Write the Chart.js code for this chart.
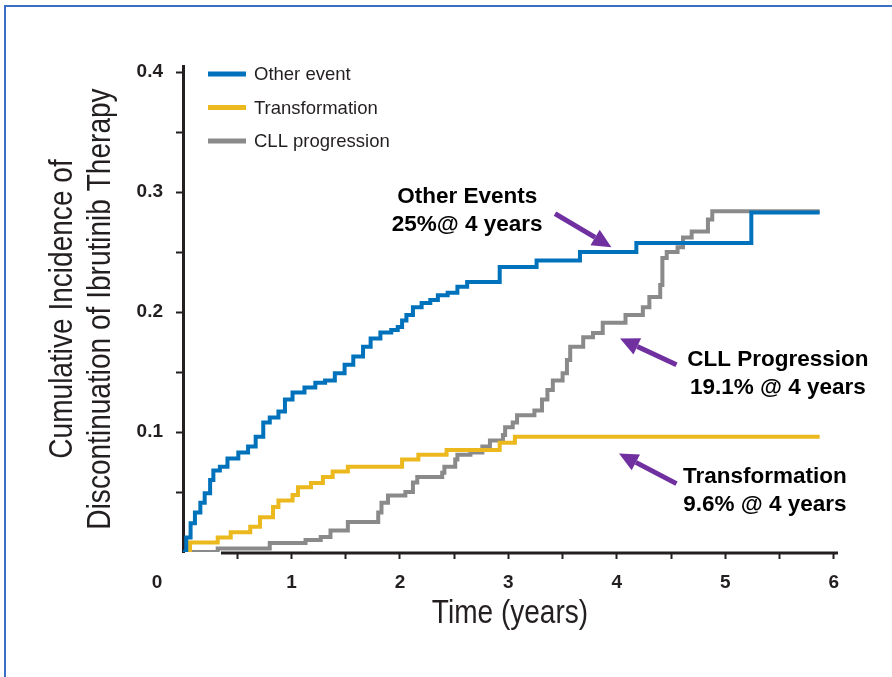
<!DOCTYPE html>
<html>
<head>
<meta charset="utf-8">
<title>Cumulative incidence of ibrutinib discontinuation</title>
<script src="https://cdn.jsdelivr.net/npm/chart.js@4.4.1/dist/chart.umd.min.js"></script>
<style>
  html, body { margin: 0; padding: 0; background: #ffffff; }
  #wrap { position: relative; width: 892px; height: 677px; overflow: hidden; background: #ffffff; }
  #frame { position: absolute; left: 4px; top: 5px; width: 1000px; height: 1000px;
           border-left: 2px solid #3a6fc3; border-top: 2px solid #3a6fc3; }
  #c { position: absolute; left: 0; top: 0; }
</style>
</head>
<body>
<div id="wrap">
  <div id="frame"></div>
  <canvas id="c" width="892" height="677"></canvas>
</div>
<script>
// ---- series (time in years, cumulative incidence) ----
const seriesNames = ['Other event', 'Transformation', 'CLL progression'];

const otherEventTimes = [0, 0.03, 0.07, 0.11, 0.16, 0.20, 0.25, 0.28, 0.34, 0.41, 0.51, 0.60, 0.67, 0.74, 0.80,
  0.88, 0.94, 1.01, 1.12, 1.22, 1.31, 1.40, 1.49, 1.57, 1.66, 1.73, 1.82, 1.92, 1.98, 2.02, 2.06, 2.12,
  2.20, 2.28, 2.35, 2.44, 2.53, 2.62, 2.92, 3.26, 3.66, 4.18, 5.24, 5.87];
const otherEventValues = [0, 0.012, 0.024, 0.033, 0.041, 0.049, 0.060, 0.068, 0.071, 0.078, 0.083, 0.088, 0.096, 0.108, 0.112,
  0.117, 0.127, 0.133, 0.137, 0.141, 0.143, 0.149, 0.156, 0.163, 0.171, 0.178, 0.183, 0.185, 0.1875, 0.193, 0.1975, 0.204,
  0.2075, 0.210, 0.214, 0.216, 0.221, 0.225, 0.2375, 0.243, 0.250, 0.2575, 0.283, 0.283];

const transformationTimes = [0, 0.065, 0.32, 0.44, 0.62, 0.71, 0.83, 0.88, 1.01, 1.06, 1.18, 1.29, 1.38, 1.52,
  2.02, 2.17, 2.43, 2.92, 3.06, 5.87];
const transformationValues = [0, 0.008, 0.012, 0.0165, 0.021, 0.029, 0.0375, 0.043, 0.0475, 0.054, 0.0575, 0.0625, 0.067, 0.071,
  0.077, 0.081, 0.085, 0.091, 0.096, 0.096];

const progressionTimes = [0, 0.32, 0.80, 1.13, 1.27, 1.36, 1.52, 1.80, 1.83, 1.89, 2.05, 2.12, 2.16, 2.39, 2.41,
  2.51, 2.53, 2.65, 2.76, 2.83, 2.95, 2.97, 3.04, 3.08, 3.24, 3.31, 3.36, 3.41, 3.50, 3.54, 3.57, 3.69, 3.78,
  3.87, 4.08, 4.24, 4.30, 4.40, 4.42, 4.46, 4.56, 4.61, 4.69, 4.84, 4.88, 5.87];
const progressionValues = [0, 0.003, 0.0075, 0.010, 0.0125, 0.018, 0.025, 0.033, 0.041, 0.047, 0.050, 0.058, 0.0625, 0.066, 0.071,
  0.077, 0.081, 0.083, 0.088, 0.093, 0.0975, 0.104, 0.108, 0.114, 0.118, 0.127, 0.135, 0.143, 0.149, 0.160, 0.171, 0.179, 0.1825,
  0.191, 0.1975, 0.204, 0.2125, 0.2225, 0.245, 0.250, 0.254, 0.262, 0.267, 0.277, 0.284, 0.284];

// ---- axis ticks and titles ----
const xTickStep = 0.5;          // minor ticks every half year, labels on whole years
const yTickStep = 0.05;         // minor ticks every 0.05, labels every 0.1
const cornerLabel = '0';
const xTitle = 'Time (years)';
const yTitleLines = ['Cumulative Incidence of', 'Discontinuation of Ibrutinib Therapy'];

// ---- callouts ----
const noteLines = [
  ['Other Events', '25%@ 4 years'],
  ['CLL Progression', '19.1% @ 4 years'],
  ['Transformation', '9.6% @ 4 years']
];

// ---- styling / layout ----
const seriesColors = ['#0072bc', '#ebb91e', '#8a8a8a'];
const inkColor = '#231f20';
const arrowColor = '#7030a0';
const plain = "'Liberation Sans', Arial, sans-serif";
const titleSqueeze = 0.85;      // horizontal squeeze for the condensed axis titles

// arrow tip / tail and text anchor in data units (text anchor = first baseline)
const noteLayout = [
  { tip: [3.95, 0.254], tail: [3.43, 0.282], text: [2.62, 0.291] },
  { tip: [4.03, 0.178], tail: [4.55, 0.156], text: [5.485, 0.155] },
  { tip: [4.02, 0.082], tail: [4.55, 0.057], text: [5.365, 0.0575] }
];

function toPoints(times, values) {
  return times.map((t, i) => ({ x: t, y: values[i] }));
}

function drawArrow(ctx, x0, y0, x1, y1) {
  const ang = Math.atan2(y1 - y0, x1 - x0);
  const head = 19, half = 9;
  const bx = x1 - head * Math.cos(ang), by = y1 - head * Math.sin(ang);
  ctx.save();
  ctx.strokeStyle = arrowColor;
  ctx.fillStyle = arrowColor;
  ctx.lineWidth = 5;
  ctx.lineCap = 'butt';
  ctx.beginPath();
  ctx.moveTo(x0, y0);
  ctx.lineTo(bx, by);
  ctx.stroke();
  ctx.beginPath();
  ctx.moveTo(x1, y1);
  ctx.lineTo(bx + half * Math.sin(ang), by - half * Math.cos(ang));
  ctx.lineTo(bx - half * Math.sin(ang), by + half * Math.cos(ang));
  ctx.closePath();
  ctx.fill();
  ctx.restore();
}

function drawSqueezedText(ctx, text, x, y, rotation) {
  ctx.save();
  ctx.translate(x, y);
  ctx.rotate(rotation);
  ctx.scale(titleSqueeze, 1);
  ctx.fillText(text, 0, 0);
  ctx.restore();
}

const figureExtras = {
  id: 'figureExtras',
  beforeDatasetsDraw(chart) {
    // horizontal axis line, starting a little right of the origin
    const { ctx, chartArea, scales: { x } } = chart;
    ctx.save();
    ctx.strokeStyle = inkColor;
    ctx.lineWidth = 3;
    ctx.beginPath();
    ctx.moveTo(x.getPixelForValue(0.35), chartArea.bottom + 1);
    ctx.lineTo(chartArea.right + 1, chartArea.bottom + 1);
    ctx.stroke();
    ctx.restore();
  },
  afterDatasetsDraw(chart) {
    const { ctx, chartArea, scales: { x, y } } = chart;
    ctx.save();

    // axis titles in a condensed face
    ctx.fillStyle = inkColor;
    ctx.font = '33px ' + plain;
    ctx.textAlign = 'center';
    ctx.textBaseline = 'middle';
    const midX = (chartArea.left + chartArea.right) / 2;
    const midY = (chartArea.top + chartArea.bottom) / 2;
    drawSqueezedText(ctx, xTitle, midX, chartArea.bottom + 62, 0);
    yTitleLines.forEach((line, k) => drawSqueezedText(ctx, line, 63 + k * 38, midY, -Math.PI / 2));

    // legend
    ctx.font = '18.5px ' + plain;
    ctx.textBaseline = 'middle';
    ctx.textAlign = 'left';
    chart.data.datasets.forEach((ds, i) => {
      const ly = chartArea.top + 8 + i * 33.5;
      ctx.strokeStyle = ds.borderColor;
      ctx.lineWidth = 5;
      ctx.beginPath();
      ctx.moveTo(chartArea.left + 25, ly);
      ctx.lineTo(chartArea.left + 63, ly);
      ctx.stroke();
      ctx.fillStyle = inkColor;
      ctx.fillText(ds.label, chartArea.left + 71, ly + 1);
    });

    // shared origin label
    ctx.font = 'bold 19px ' + plain;
    ctx.textAlign = 'center';
    ctx.textBaseline = 'middle';
    ctx.fillStyle = inkColor;
    ctx.fillText(cornerLabel, x.getPixelForValue(0) - 26, chartArea.bottom + 31);

    // callouts
    noteLayout.forEach((n, i) => {
      drawArrow(ctx,
        x.getPixelForValue(n.tail[0]), y.getPixelForValue(n.tail[1]),
        x.getPixelForValue(n.tip[0]), y.getPixelForValue(n.tip[1]));
      ctx.font = 'bold 22.5px ' + plain;
      ctx.fillStyle = '#000000';
      ctx.textAlign = 'center';
      ctx.textBaseline = 'alphabetic';
      const tx = x.getPixelForValue(n.text[0]);
      const ty = y.getPixelForValue(n.text[1]);
      noteLines[i].forEach((line, k) => ctx.fillText(line, tx, ty + k * 28));
    });
    ctx.restore();
  }
};

const isStep = (v, step) => Math.abs(v / step - Math.round(v / step)) < 1e-6;

const ctx = document.getElementById('c').getContext('2d');
new Chart(ctx, {
  type: 'line',
  data: {
    datasets: [
      { label: seriesNames[0], data: toPoints(otherEventTimes, otherEventValues), borderColor: seriesColors[0] },
      { label: seriesNames[1], data: toPoints(transformationTimes, transformationValues), borderColor: seriesColors[1] },
      { label: seriesNames[2], data: toPoints(progressionTimes, progressionValues), borderColor: seriesColors[2] }
    ]
  },
  options: {
    responsive: false,
    animation: false,
    layout: { padding: { top: 66, right: 55, bottom: 0, left: 0 } },
    elements: {
      point: { radius: 0, hoverRadius: 0 },
      line: { borderWidth: 4, stepped: 'before', tension: 0, fill: false, borderJoinStyle: 'miter' }
    },
    plugins: { legend: { display: false }, tooltip: { enabled: false } },
    scales: {
      x: {
        type: 'linear',
        min: 0,
        max: 6.03,
        afterFit: (s) => { s.height = 125; },
        border: { display: false },
        grid: {
          drawOnChartArea: false,
          drawTicks: true,
          tickLength: 7,
          tickWidth: 2,
          tickColor: (c) => (c.tick && c.tick.value > 0 ? inkColor : 'rgba(0,0,0,0)')
        },
        ticks: {
          stepSize: xTickStep,
          includeBounds: false,
          autoSkip: false,
          maxRotation: 0,
          padding: 12,
          color: inkColor,
          font: { family: plain, size: 19, weight: 'bold' },
          callback: (v) => (v > 0 && isStep(v, 1) ? String(Math.round(v)) : '')
        },
        title: { display: false }
      },
      y: {
        type: 'linear',
        min: 0,
        max: 0.405,
        afterFit: (s) => { s.width = 183; },
        border: { display: true, color: inkColor, width: 3 },
        grid: {
          drawOnChartArea: false,
          drawTicks: true,
          tickLength: 7,
          tickWidth: 2,
          tickColor: (c) => (c.tick && c.tick.value > 0 ? inkColor : 'rgba(0,0,0,0)')
        },
        ticks: {
          stepSize: yTickStep,
          includeBounds: false,
          autoSkip: false,
          padding: 13,
          color: inkColor,
          font: { family: plain, size: 19, weight: 'bold' },
          callback: (v) => (v > 0 && isStep(v, 0.1) ? v.toFixed(1) : '')
        },
        title: { display: false }
      }
    }
  },
  plugins: [figureExtras]
});
</script>
</body>
</html>
